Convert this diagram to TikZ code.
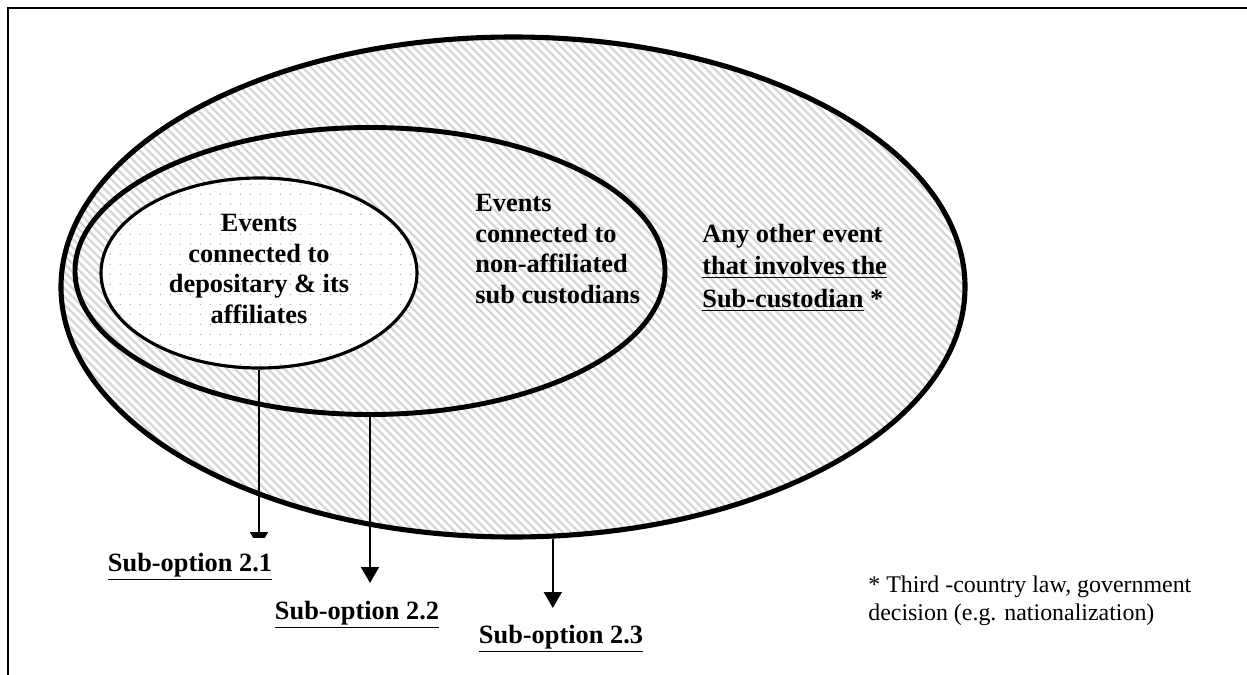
\documentclass[tikz,border=0pt]{standalone}
\usepackage{fontspec}
\setmainfont{Liberation Serif}
\usepackage{tikz}
\usetikzlibrary{shapes.geometric,arrows.meta,patterns.meta,positioning}

\tikzset{
  ring/.style={ellipse, draw, inner sep=0pt},
  hatched/.style={pattern={Lines[angle=-45,distance=3.3pt,line width=1.3pt]}, pattern color=black!16},
  dotfill/.style={preaction={fill=white}, pattern={Dots[distance=5.7pt,radius=0.4pt]}, pattern color=black!35},
  evtext/.style={font=\fontsize{15}{17.4}\selectfont\bfseries, inner sep=0pt},
  sublabel/.style={font=\fontsize{15}{17.4}\selectfont\bfseries, fill=white, inner sep=0pt, text height=19pt, anchor=base},
  note/.style={font=\fontsize{13.6}{15.9}\selectfont, inner sep=0pt},
  arr/.style={line width=1.4pt, -{Triangle[width=10pt,length=9pt]}},
}

\begin{document}
\begin{tikzpicture}[x=0.2mm, y=-0.2mm]
  \useasboundingbox (0,0) rectangle (1247,675);
  % frame
  \draw[line width=1.1pt] (8,675) -- (8,8) -- (1247,8);

  % the three sets of events
  \node[ring, hatched, line width=2.9pt, minimum width=18.08cm, minimum height=10cm] (outer) at (513,287) {};
  \node[ring, line width=2.8pt, minimum width=11.8cm, minimum height=5.74cm] (middle) at (370,271) {};
  \node[ring, dotfill, line width=1.8pt, minimum width=6.32cm, minimum height=3.8cm] (inner) at (259,273) {};

  \node[evtext, align=center, anchor=north] (innertxt) at (259,214) {Events\\connected to\\depositary \& its\\affiliates};
  \node[evtext, align=left, anchor=north west] (midtxt) at (475,194) {Events\\connected to\\non-affiliated\\sub custodians};
  \node[evtext, font=\fontsize{15}{18.4}\selectfont\bfseries, align=left, anchor=north west] (outtxt) at (702,224)
    {Any other event\\\underline{that involves the}\\\underline{Sub-custodian} *};

  % sub-options
  \coordinate (end1) at (257,548);
  \coordinate (end2) at (369,583);
  \coordinate (end3) at (550,608);
  \draw[arr] (inner.south) -- (inner.south |- end1);
  \draw[arr] (middle.south) -- (middle.south |- end2);
  \draw[arr] (outer.-81.5) -- (outer.-81.5 |- end3);

  \node[sublabel] (opt1) at (190,571) {\underline{Sub-option 2.1}};
  \node[sublabel] (opt2) at (357,619) {\underline{Sub-option 2.2}};
  \node[sublabel] (opt3) at (561,643) {\underline{Sub-option 2.3}};

  \node[note, align=left, anchor=north west] (note) at (868,576) {* Third -country law, government\\decision (e.g. nationalization)};
\end{tikzpicture}
\end{document}
